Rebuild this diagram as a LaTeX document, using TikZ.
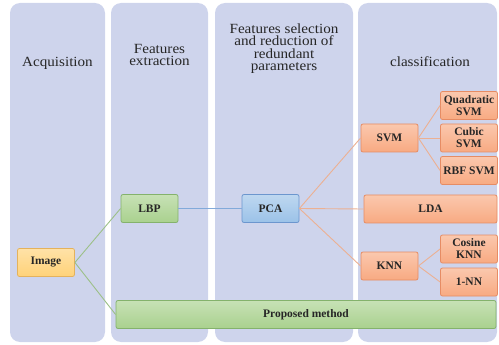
\documentclass[tikz,border=0pt]{standalone}
\usepackage{fontspec}
\setmainfont{Liberation Serif}

\definecolor{panelblue}{RGB}{206,212,236}
\definecolor{imgfill}{RGB}{255,210,120}
\definecolor{imgline}{RGB}{228,178,92}
\definecolor{greenfill}{RGB}{169,209,142}
\definecolor{greenline}{RGB}{132,178,108}
\definecolor{bluefill}{RGB}{155,194,232}
\definecolor{blueline}{RGB}{108,150,206}
\definecolor{orangefill}{RGB}{248,170,130}
\definecolor{orangeline}{RGB}{230,140,100}
\definecolor{orangelink}{RGB}{236,176,146}
\definecolor{greenlink}{RGB}{156,192,136}
\definecolor{bluelink}{RGB}{130,170,218}
\definecolor{textgrey}{RGB}{38,38,38}

\begin{document}
\begin{tikzpicture}[x=1pt,y=-1pt,
        panel/.style={fill=panelblue,rounded corners=10pt},
        title/.style={text=textgrey,align=center,xscale=1.08,font=\fontsize{14}{12.5}\selectfont},
        box/.style={draw,rounded corners=2pt,line width=0.8pt,minimum width=57pt,minimum height=28pt,
                inner sep=1pt,align=center,text=textgrey,font=\fontsize{11.5}{12}\selectfont\bfseries},
        ybox/.style={box,draw=imgline,top color=imgfill!65!white,bottom color=imgfill},
        gbox/.style={box,draw=greenline,top color=greenfill!65!white,bottom color=greenfill},
        bbox/.style={box,draw=blueline,top color=bluefill!65!white,bottom color=bluefill},
        obox/.style={box,draw=orangeline,top color=orangefill!65!white,bottom color=orangefill},
        link/.style={line width=0.9pt}]
        
        %\draw [help lines,step=20] (0,0) grid (499,345);
        \useasboundingbox (0,0) rectangle (499,345);
        
        \path[panel] (10,3) rectangle (105,342);
        \path[panel] (111,3) rectangle (208,342);
        \path[panel] (215,3) rectangle (353,342);
        \path[panel] (358,3) rectangle (497,342);
        
        \node[title] (acq) at (57.5,63) {Acquisition};
        \node[title] (ext) at (159.5,55) {Features\\extraction};
        \node[title] (sel) at (284,48.5) {Features selection\\and reduction of\\redundant\\parameters};
        \node[title] (cls) at (430,62) {classification};
        
        
        
        \node[ybox] (img) at (46,262.5) {Image};
        \node[gbox] (lbp) at (149.5,208.5) {LBP};
        \node[bbox] (pca) at (270.5,208.5) {PCA};
        \node[gbox,minimum width=380pt] (prop) at (306,314.5) {Proposed method};
        
        \node[obox] (svm) at (389.5,138) {SVM};
        \node[obox,minimum width=133pt] (lda) at (430.5,209) {LDA};
        \node[obox] (knn) at (389.5,266) {KNN};
        
        \node[obox] (quad) at (469,105.5) {Quadratic\\SVM};
        \node[obox] (cub) at (469,138) {Cubic\\SVM};
        \node[obox] (rbf) at (469,170.5) {RBF SVM};
        \node[obox] (cos) at (469,249) {Cosine\\KNN};
        \node[obox] (onenn) at (469,282) {1-NN};
        
        
        
        \draw[link,greenlink] (img.east) -- (lbp.west);
        \draw[link,greenlink] (img.east) -- (prop.west);
        
        \draw[link,bluelink] (lbp.east) -- (pca.west);
        
        \draw[link,orangelink] (pca.east) -- (svm.west);
        \draw[link,orangelink] (pca.east) -- (lda.west);
        \draw[link,orangelink] (pca.east) -- (knn.west);
        
        \draw[link,orangelink] (svm.east) -- (quad.west);
        \draw[link,orangelink] (svm.east) -- (cub.west);
        \draw[link,orangelink] (svm.east) -- (rbf.west);
        
        \draw[link,orangelink] (knn.east) -- (cos.west);
        \draw[link,orangelink] (knn.east) -- (onenn.west);
        
\end{tikzpicture}
\end{document}
